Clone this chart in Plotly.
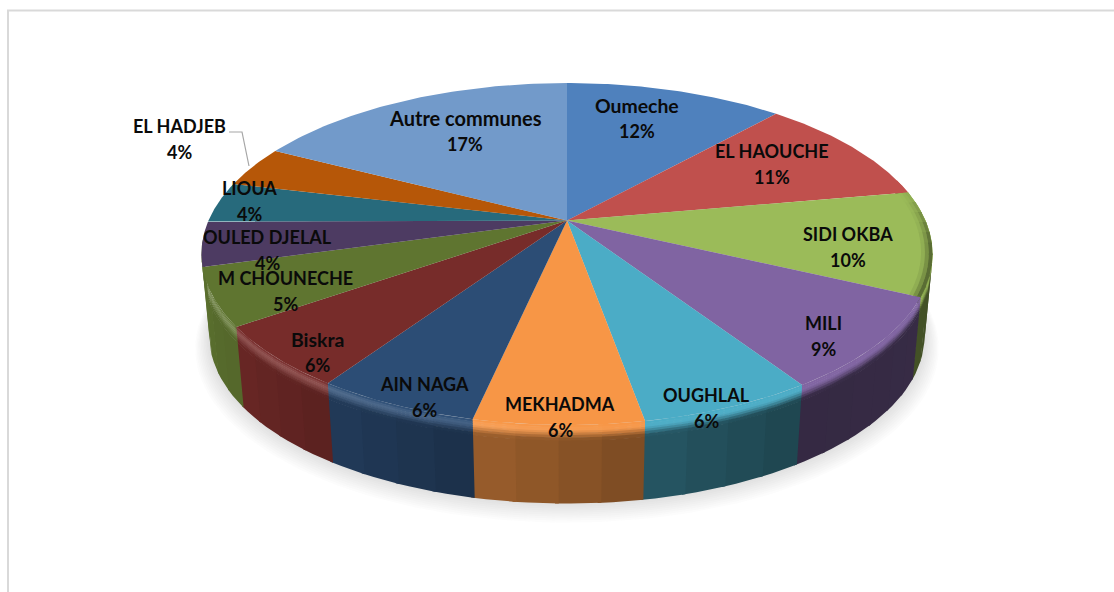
import numpy as np
import plotly.graph_objects as go

# ---- data ----
categories = ["Oumeche", "EL HAOUCHE", "SIDI OKBA", "MILI", "OUGHLAL", "MEKHADMA", "AIN NAGA",
              "Biskra", "M CHOUNECHE", "OULED DJELAL", "LIOUA", "EL HADJEB", "Autre communes"]
values = [11.6, 10.5, 9.8, 8.7, 6.4, 6.2, 6.0, 5.8, 5.4, 4.2, 3.8, 3.9, 17.3]

# ---- styles ----
colors = ["#4f81bd", "#c0504d", "#9bbb59", "#8064a2", "#4bacc6", "#f79646", "#2c4d75",
          "#772c2a", "#5f7530", "#4d3b62", "#276a7c", "#b65708", "#729aca"]
label_x = [637, 772, 848, 823, 706, 560, 424, 317, 285, 267, 249, 179, 465]
label_y = [105, 151, 234, 323, 395, 404, 384, 339, 278, 237, 188, 126, 118]
label_size = [19.4, 18, 18, 18, 18, 18, 18, 19.4, 18, 18, 18, 18, 20]
FONT = "Lato"
FS = 18

# ---- projection of a tilted disc onto the page ----
CX, Y0, A, B, K = 567.0, 220.5, 358.5, 164.4, 0.196
SCALE_BOTTOM, Y0_BOTTOM = 0.978, 303.0


def project(theta, z=0.0, grow=1.0, drop=0.0):
    """theta clockwise from 12 o'clock (radians); z 0=top rim, 1=bottom rim."""
    X, Y = np.sin(theta), np.cos(theta)
    w = 1 + K * Y * grow
    s = (1 + (SCALE_BOTTOM - 1) * z) * grow
    y0 = Y0 + (Y0_BOTTOM - Y0) * z + drop
    return CX + s * A * X / w, y0 - s * B * Y / w


def hex2rgb(c):
    return np.array([int(c[i:i + 2], 16) for i in (1, 3, 5)], float)


def rgb(v):
    v = np.clip(v, 0, 255).round().astype(int)
    return f"rgb({v[0]},{v[1]},{v[2]})"


fig = go.Figure()


def poly(xs, ys, color):
    fig.add_trace(go.Scatter(x=xs, y=ys, mode="lines", fill="toself", fillcolor=color,
                             line=dict(width=0), hoverinfo="skip", showlegend=False))


# soft shadow under the disc
tt = np.linspace(0, 2 * np.pi, 241)
for i in range(10, 0, -1):
    sx, sy = project(tt, 1.0, grow=1 + i * 0.0038, drop=i * 1.0)
    poly(list(sx), list(sy), "rgba(90,90,90,0.018)")

shares = np.array(values) / np.sum(values)
edges = np.concatenate([[0], np.cumsum(shares)]) * 2 * np.pi

# side wall
shade_t = np.radians([80, 150, 170, 192, 213, 235, 255, 290])
shade_f = [0.45, 0.41, 0.50, 0.62, 0.75, 0.88, 0.95, 0.95]
glow_t = np.radians([80, 170, 190, 215, 290])
glow_f = [0.0, 0.03, 0.10, 0.18, 0.18]
zs = [0.0, 0.025, 0.05, 0.075, 0.10, 0.13, 0.16, 0.20, 1.0]
LOW = np.radians(75)
LAST_WALL = categories.index("M CHOUNECHE")
LAST_WALL_END = np.radians(263)
STEP, OVER = np.radians(6), np.radians(0.5)

for i, c in enumerate(colors):
    if i > LAST_WALL:
        continue
    a, b = max(edges[i], LOW), edges[i + 1]
    if i == LAST_WALL:
        b = LAST_WALL_END
    if b <= a:
        continue
    n = max(1, int(np.ceil((b - a) / STEP)))
    grid = np.linspace(a, b, n + 1)
    base = hex2rgb(c)
    for j in range(n):
        t0, t1 = grid[j], grid[j + 1] + OVER
        arc = np.linspace(t0, t1, 4)
        mid = (t0 + t1) / 2
        side = base * np.interp(mid, shade_t, shade_f)
        lit = base + (255 - base) * np.interp(mid, glow_t, glow_f)
        for k in range(len(zs) - 1):
            zm = (zs[k] + zs[k + 1]) / 2
            if zm < 0.05:
                col = base + (lit - base) * zm / 0.05
            elif zm < 0.20:
                u = (zm - 0.05) / 0.15
                col = lit + (side - lit) * u * u * (3 - 2 * u)
            else:
                col = side
            x0, y0 = project(arc, zs[k])
            x1, y1 = project(arc[::-1], zs[k + 1] + 0.008)
            poly(list(x0) + list(x1), list(y0) + list(y1), rgb(col))

# top face
for i, c in enumerate(colors):
    arc = np.linspace(edges[i], edges[i + 1], 60)
    xs, ys = project(arc)
    poly([CX] + list(xs) + [CX], [Y0] + list(ys) + [Y0], c)

# dark bevel along the right-hand rim of the SIDI OKBA slice
sidi = categories.index("SIDI OKBA")
ring_t = np.radians([78, 98, 200])
ring_f = [0.0, 1.0, 1.0]
base = hex2rgb(colors[sidi])
dark = base * 0.42
rings = [(0.97, 0.98, 0.12), (0.98, 0.99, 0.38), (0.99, 1.0, 0.72)]
a, b = edges[sidi], edges[sidi + 1]
n = 10
grid = np.linspace(a, b, n + 1)
for j in range(n):
    arc = np.linspace(grid[j], min(grid[j + 1] + OVER, b), 4)
    amt = np.interp((grid[j] + grid[j + 1]) / 2, ring_t, ring_f)
    for r0, r1, m in rings:
        x0, y0 = project(arc, 0.0, grow=r0)
        x1, y1 = project(arc[::-1], 0.0, grow=r1)
        poly(list(x0) + list(x1), list(y0) + list(y1), rgb(base + (dark - base) * m * amt))

# leader line for EL HADJEB
fig.add_trace(go.Scatter(x=[229, 242, 249], y=[132, 132, 166], mode="lines",
                         line=dict(color="#a6a6a6", width=1.2), hoverinfo="skip", showlegend=False))

# labels
annotations = []
for name, v, lx, ly, fs in zip(categories, shares, label_x, label_y, label_size):
    annotations.append(dict(x=lx, y=ly, text=f"<b>{name}</b>", showarrow=False, xanchor="center", yanchor="middle",
                            font=dict(family=FONT, size=fs, color="#0a0a0a")))
    annotations.append(dict(x=lx, y=ly + 25.5, text=f"<b>{round(v * 100)}%</b>", showarrow=False,
                            xanchor="center", yanchor="middle", font=dict(family=FONT, size=FS, color="#0a0a0a")))

fig.update_layout(
    width=1114, height=592, margin=dict(l=0, r=0, t=0, b=0), autosize=False,
    paper_bgcolor="white", plot_bgcolor="white", showlegend=False,
    xaxis=dict(range=[0, 1114], visible=False, fixedrange=True),
    yaxis=dict(range=[592, 0], visible=False, fixedrange=True),
    annotations=annotations,
    shapes=[dict(type="rect", xref="x", yref="y", x0=8, y0=10.5, x1=1130, y1=610,
                 line=dict(color="#d9d9d9", width=2), fillcolor="rgba(0,0,0,0)", layer="below")],
)
fig.write_html("out.html", config={"displayModeBar": False},
               post_script="document.body.style.margin='0';document.body.style.overflow='hidden';")
